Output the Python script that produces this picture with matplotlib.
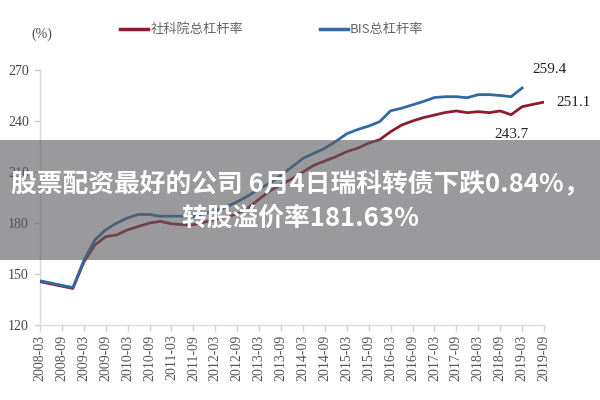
import matplotlib
matplotlib.use("Agg")
import matplotlib.pyplot as plt
from matplotlib.patches import Rectangle

# ---------------- data ----------------
tick_labels = ['2008-03', '2008-09', '2009-03', '2009-09', '2010-03', '2010-09',
               '2011-03', '2011-09', '2012-03', '2012-09', '2013-03', '2013-09',
               '2014-03', '2014-09', '2015-03', '2015-09', '2016-03', '2016-09',
               '2017-03', '2017-09', '2018-03', '2018-09', '2019-03', '2019-09']

cass_dates = ['2008-03', '2008-12', '2009-03', '2009-06', '2009-09', '2009-12',
              '2010-03', '2010-06', '2010-09', '2010-12', '2011-03', '2011-06',
              '2011-09', '2011-12', '2012-03', '2012-06', '2012-09', '2012-12',
              '2013-03', '2013-06', '2013-09', '2013-12', '2014-03', '2014-06',
              '2014-09', '2014-12', '2015-03', '2015-06', '2015-09', '2015-12',
              '2016-03', '2016-06', '2016-09', '2016-12', '2017-03', '2017-06',
              '2017-09', '2017-12', '2018-03', '2018-06', '2018-09', '2018-12',
              '2019-03', '2019-06', '2019-09']
cass_values = [145.5, 141.5, 157.0, 167.0, 172.0, 173.0,
               176.0, 178.0, 180.0, 181.0, 179.5, 179.0,
               179.0, 180.5, 182.0, 183.5, 185.5, 189.0,
               194.0, 199.0, 202.5, 206.0, 210.0, 214.0,
               216.5, 219.0, 222.0, 224.0, 227.0, 229.0,
               233.7, 237.6, 240.0, 242.0, 243.5, 245.0,
               245.9, 244.9, 245.5, 244.9, 245.9, 243.7,
               248.4, 249.8, 251.1]

bis_dates = ['2008-03', '2008-12', '2009-03', '2009-06', '2009-09', '2009-12',
             '2010-03', '2010-06', '2010-09', '2010-12', '2011-03', '2011-06',
             '2011-09', '2011-12', '2012-03', '2012-06', '2012-09', '2012-12',
             '2013-03', '2013-06', '2013-09', '2013-12', '2014-03', '2014-06',
             '2014-09', '2014-12', '2015-03', '2015-06', '2015-09', '2015-12',
             '2016-03', '2016-06', '2016-09', '2016-12', '2017-03', '2017-06',
             '2017-09', '2017-12', '2018-03', '2018-06', '2018-09', '2018-12',
             '2019-03']
bis_values = [146.0, 142.0, 158.0, 170.0, 176.0, 180.0,
              183.0, 185.0, 185.0, 184.0, 184.0, 184.0,
              184.0, 185.5, 187.0, 189.5, 192.5, 196.0,
              200.0, 203.5, 208.0, 213.0, 218.0, 221.0,
              224.0, 228.0, 232.5, 235.0, 237.0, 239.6,
              246.0, 247.5, 249.5, 251.5, 253.8, 254.3,
              254.3, 253.7, 255.5, 255.5, 255.0, 254.3,
              259.4]

y_ticks = [120, 150, 180, 210, 240, 270]
series_names = ['社科院总杠杆率', 'BIS总杠杆率']
overlay_title = ['股票配资最好的公司 6月4日瑞科转债下跌0.84%，', '转股溢价率181.63%']


def qpos(s):
    y, m = s.split('-')
    return (int(y) - 2008) * 4 + (int(m) - 3) / 3.0


# ---------------- figure ----------------
RED = '#8c1d2e'
BLUE = '#2f6aa3'
SERIF = 'Liberation Serif'
CJK = ['Noto Sans CJK SC', 'DejaVu Sans']

fig = plt.figure(figsize=(6, 4), dpi=100)
ax = fig.add_axes([40 / 600, 1 - 325 / 400, 504 / 600, 255 / 400])

ax.plot([qpos(d) for d in cass_dates], cass_values, color=RED, lw=2.0,
        solid_joinstyle='round', zorder=3)
ax.plot([qpos(d) for d in bis_dates], bis_values, color=BLUE, lw=2.0,
        solid_joinstyle='round', zorder=3)

ax.set_xlim(qpos(tick_labels[0]), qpos(tick_labels[-1]))
ax.set_ylim(y_ticks[0], y_ticks[-1])
ax.set_yticks(y_ticks)
ax.set_yticklabels([str(v) for v in y_ticks], fontfamily=SERIF, fontsize=10,
                   color='#444444')
ax.set_xticks([qpos(t) for t in tick_labels])
ax.set_xticklabels(tick_labels, rotation=90, fontfamily=SERIF, fontsize=10,
                   color='#555555')
for side in ['top', 'right']:
    ax.spines[side].set_visible(False)
for side in ['left', 'bottom']:
    ax.spines[side].set_color('#d9d9d9')
    ax.spines[side].set_linewidth(1.0)
ax.tick_params(axis='both', colors='#d0d0d0', length=4, width=1.0)
ax.tick_params(axis='y', labelcolor='#444444', pad=4)
ax.tick_params(axis='x', labelcolor='#555555', pad=3)

# annotations
ax.annotate('259.4', (qpos(bis_dates[-1]), bis_values[-1]), xytext=(20, 13),
            textcoords='offset points', ha='center', va='center',
            fontfamily=SERIF, fontsize=11, color='#222222')
ax.annotate('251.1', (qpos(cass_dates[-1]), cass_values[-1]), xytext=(9, 0),
            textcoords='offset points', ha='left', va='center',
            fontfamily=SERIF, fontsize=11, color='#222222')
ax.annotate('243.7', (qpos(cass_dates[-4]), cass_values[-4]), xytext=(0, -14),
            textcoords='offset points', ha='center', va='center',
            fontfamily=SERIF, fontsize=11, color='#222222')

# unit label
fig.text(42 / 600, 1 - 34 / 400, '(%)', fontfamily=SERIF, fontsize=10,
         color='#444444', ha='center', va='center')

# legend (manual, top)
fig.lines.append(plt.Line2D([120 / 600, 148 / 600], [1 - 29 / 400] * 2,
                            transform=fig.transFigure, color=RED, lw=2.5))
fig.text(151 / 600, 1 - 29 / 400, series_names[0], family=CJK, fontsize=9.5,
         color='#666666', ha='left', va='center')
fig.lines.append(plt.Line2D([320 / 600, 348 / 600], [1 - 29 / 400] * 2,
                            transform=fig.transFigure, color=BLUE, lw=2.5))
fig.text(350 / 600, 1 - 29 / 400, series_names[1], family=CJK, fontsize=9.5,
         color='#666666', ha='left', va='center')

# gray overlay band with title
fig.patches.append(Rectangle((0, 1 - 260 / 400), 1, 120 / 400,
                             transform=fig.transFigure, facecolor='#5c5c62',
                             alpha=0.62, edgecolor='none', zorder=10))
fig.text(0.5, 1 - 184 / 400, overlay_title[0], family=CJK, fontsize=18.5,
         fontweight='bold', color='white', ha='center', va='center', zorder=11)
fig.text(0.5, 1 - 218 / 400, overlay_title[1], family=CJK, fontsize=18.5,
         fontweight='bold', color='white', ha='center', va='center', zorder=11)

fig.savefig('out.png', dpi=100)
